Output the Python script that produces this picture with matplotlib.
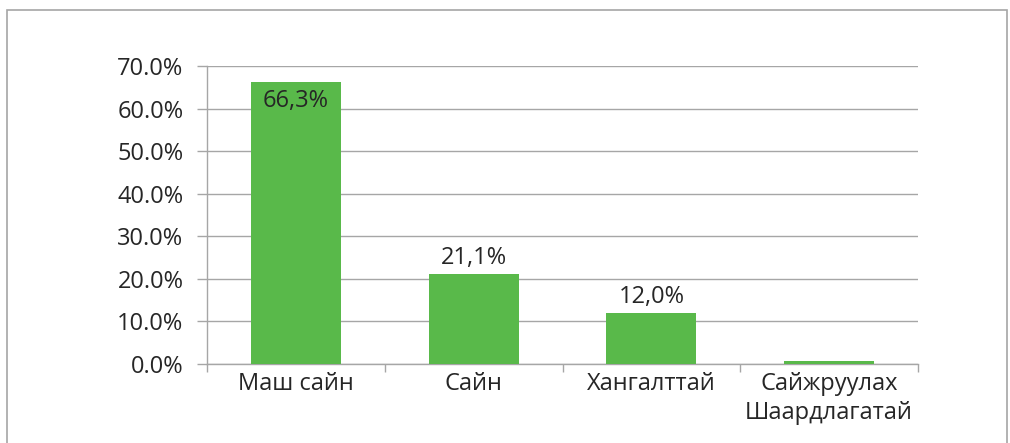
import matplotlib.pyplot as plt
from matplotlib.patches import Rectangle

plt.rcParams['font.family'] = ['Open Sans', 'DejaVu Sans']

categories = ['Маш сайн', 'Сайн', 'Хангалттай', 'Сайжруулах\nШаардлагатай']
values = [66.3, 21.1, 12.0, 0.7]
labels = ['66,3%', '21,1%', '12,0%', '']
yticks = [0, 10, 20, 30, 40, 50, 60, 70]

green = '#59b94a'
grey = '#a6a6a6'
txt = '#262626'
fs = 17

fig = plt.figure(figsize=(10.1, 4.43), dpi=100)
# outer border of the chart area (bottom is cut off in the original)
fig.patches.append(Rectangle((7 / 1010, -0.05), 1000 / 1010, 1.05 - 10 / 443,
                             transform=fig.transFigure, fill=False,
                             edgecolor=grey, linewidth=1.2))

ax = fig.add_axes([207 / 1010, 1 - 364 / 443, 711 / 1010, 298 / 443])
x = range(len(categories))
ax.bar(x, values, width=0.505, color=green, zorder=3)

for i, (v, lab) in enumerate(zip(values, labels)):
    if not lab:
        continue
    if v > 60:
        ax.text(i, v - 1.8, lab, ha='center', va='top', fontsize=fs, color=txt, zorder=4)
    else:
        ax.text(i, v + 1.0, lab, ha='center', va='bottom', fontsize=fs, color=txt, zorder=4)

ax.set_xlim(-0.5, len(categories) - 0.5)
ax.set_ylim(0, 70)
ax.set_yticks(yticks)
ax.set_yticklabels(['%.1f%%' % t for t in yticks], fontsize=fs, color=txt)
ax.yaxis.grid(True, color=grey, linewidth=1.0, zorder=0)

ax.set_xticks(list(x))
ax.set_xticklabels(categories, fontsize=fs, color=txt, linespacing=1.25)
ax.tick_params(axis='x', length=0, pad=6)
ax.set_xticks([i + 0.5 for i in range(-1, len(categories))], minor=True)
ax.tick_params(axis='x', which='minor', length=6, color=grey, width=1.0)
ax.tick_params(axis='y', length=7, color=grey, width=1.0, pad=10)

for s in ['top', 'right']:
    ax.spines[s].set_visible(False)
for s in ['left', 'bottom']:
    ax.spines[s].set_color(grey)
    ax.spines[s].set_linewidth(1.0)

fig.savefig('out.png', dpi=100)
